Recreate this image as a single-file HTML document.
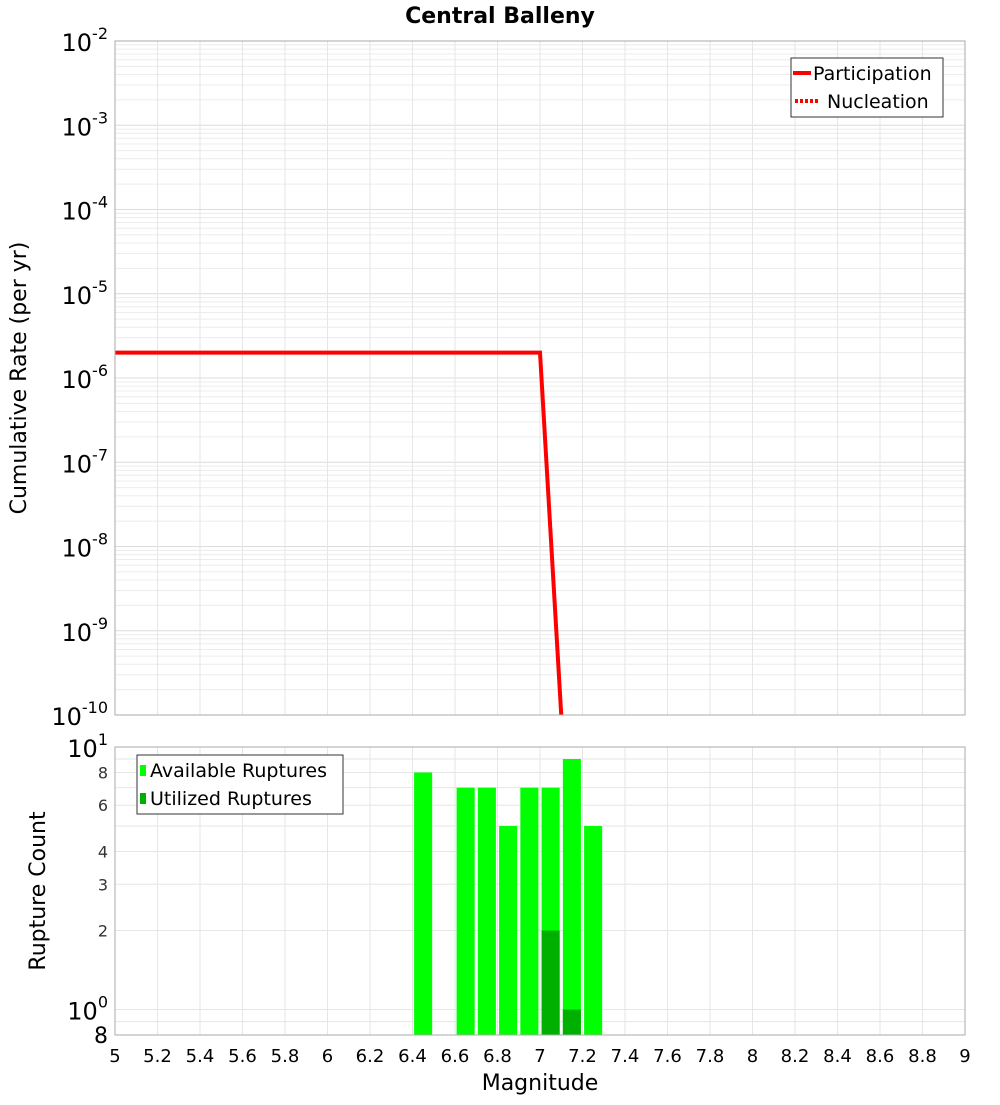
<!DOCTYPE html>
<html><head><meta charset="utf-8"><style>
body{margin:0;background:#fff;}
svg text{font-family:"DejaVu Sans","Liberation Sans",sans-serif;}
</style></head><body>
<svg id="chart" width="1000" height="1100" xmlns="http://www.w3.org/2000/svg">
<text x="500" y="23" text-anchor="middle" font-size="22" font-weight="bold">Central Balleny</text>
<g id="topg"></g><g id="botg"></g>
<text transform="translate(26,378) rotate(-90)" text-anchor="middle" font-size="22">Cumulative Rate (per yr)</text>
<text transform="translate(45,891) rotate(-90)" text-anchor="middle" font-size="22">Rupture Count</text>
<text x="540" y="1090" text-anchor="middle" font-size="22">Magnitude</text>
</svg>
<script>
const partMag=[5.0,7.0,7.1];
const partRate=[2e-6,2e-6,1e-10];
const binMag=[6.45,6.65,6.75,6.85,6.95,7.05,7.15,7.25];
const availCount=[8,7,7,5,7,7,9,5];
const utilMag=[7.05,7.15];
const utilCount=[2,1];
const xTicks=[5,5.2,5.4,5.6,5.8,6,6.2,6.4,6.6,6.8,7,7.2,7.4,7.6,7.8,8,8.2,8.4,8.6,8.8,9];
const topExps=[-2,-3,-4,-5,-6,-7,-8,-9,-10];
const botTicks=[8,6,4,3,2];

const NS="http://www.w3.org/2000/svg";
const L=115,R=965,T1=41,B1=715,T2=747,B2=1035;
const xs=m=>L+(m-5)/4*(R-L);
const y1=v=>T1+(-2-Math.log10(v))/8*(B1-T1);
const y2=v=>B2-(Math.log10(v)-Math.log10(0.8))/(1-Math.log10(0.8))*(B2-T2);
function mk(p,tag,a){const e=document.createElementNS(NS,tag);for(const k in a)e.setAttribute(k,a[k]);p.appendChild(e);return e;}
const topG=document.getElementById('topg'),botG=document.getElementById('botg');

for(let e=-10;e<-2;e++)for(let k=1;k<10;k++){const yy=y1(k*Math.pow(10,e));
 const g=mk(topG,'line',{x1:L,x2:R,y1:yy,y2:yy,stroke:k==1?'#dcdcdc':'#ececec','stroke-width':1});
 
 }
xTicks.forEach(t=>{const g=mk(topG,'line',{x1:xs(t),x2:xs(t),y1:T1,y2:B1,stroke:'#e6e6e6'});
 
 
 const h=mk(botG,'line',{x1:xs(t),x2:xs(t),y1:T2,y2:B2,stroke:'#e6e6e6'});
 
 });
topExps.forEach(e=>{const yy=y1(Math.pow(10,e));
 const t=mk(topG,'text',{x:108,y:yy+10,'text-anchor':'end','font-size':24});
 
 
 t.innerHTML='10<tspan dy="-12" font-size="16">'+e+'</tspan>';});
const defs=mk(topG,'defs',{});const cp=mk(defs,'clipPath',{id:'c1'});mk(cp,'rect',{x:L,y:T1,width:R-L,height:B1-T1});
const pl=mk(topG,'polyline',{points:partMag.map((m,i)=>xs(m)+','+y1(partRate[i])).join(' '),fill:'none',stroke:'#ff0000','stroke-width':4,'clip-path':'url(#c1)'});


const f1=mk(topG,'rect',{x:L,y:T1,width:R-L,height:B1-T1,fill:'none',stroke:'#aaa'});


const lg=mk(topG,'g',{});


mk(lg,'rect',{x:791,y:58,width:152,height:59,fill:'#fff',stroke:'#333'});
mk(lg,'line',{x1:793,x2:811,y1:73,y2:73,stroke:'red','stroke-width':4});
mk(lg,'line',{x1:795,x2:820,y1:101,y2:101,stroke:'red','stroke-width':4,'stroke-dasharray':'3,2'});
let t=mk(lg,'text',{x:813,y:80,'font-size':19});t.textContent='Participation';
t=mk(lg,'text',{x:827,y:108,'font-size':19});t.textContent='Nucleation';

[0.8,0.9,1,2,3,4,5,6,7,8,9,10].forEach(v=>{const g=mk(botG,'line',{x1:L,x2:R,y1:y2(v),y2:y2(v),stroke:'#e6e6e6'});
 
 });
const bw=0.085*(R-L)/4;
binMag.forEach((m,i)=>{const r=mk(botG,'rect',{x:xs(m)-bw/2,y:y2(availCount[i]),width:bw,height:B2-y2(availCount[i]),fill:'#00ff00'});
 
 });
utilMag.forEach((m,i)=>{const r=mk(botG,'rect',{x:xs(m)-bw/2,y:y2(utilCount[i]),width:bw,height:B2-y2(utilCount[i]),fill:'#00b000'});
 
 });
const f2=mk(botG,'rect',{x:L,y:T2,width:R-L,height:B2-T2,fill:'none',stroke:'#aaa'});


botTicks.forEach(v=>{const tt=mk(botG,'text',{x:108,y:y2(v)+6,'text-anchor':'end','font-size':16,fill:'#333'});
 
 
 tt.textContent=v;});
[[10,'1'],[1,'0']].forEach(([v,e])=>{const tt=mk(botG,'text',{x:108,y:y2(v)+10,'text-anchor':'end','font-size':24});
 
 
 tt.innerHTML='10<tspan dy="-12" font-size="16">'+e+'</tspan>';});
t=mk(botG,'text',{x:108,y:B2+8,'text-anchor':'end','font-size':22});t.textContent='8';


xTicks.forEach(v=>{const tt=mk(botG,'text',{x:xs(v),y:1062,'text-anchor':'middle','font-size':18});
 
 
 tt.textContent=String(v);});
const bl=mk(botG,'g',{});


mk(bl,'rect',{x:137,y:755,width:206,height:59,fill:'#fff',stroke:'#333'});
mk(bl,'rect',{x:140,y:765,width:6,height:11,fill:'#00ff00'});
mk(bl,'rect',{x:140,y:793,width:6,height:11,fill:'#00b000'});
t=mk(bl,'text',{x:150,y:777,'font-size':19});t.textContent='Available Ruptures';
t=mk(bl,'text',{x:150,y:805,'font-size':19});t.textContent='Utilized Ruptures';
</script>
</body></html>
